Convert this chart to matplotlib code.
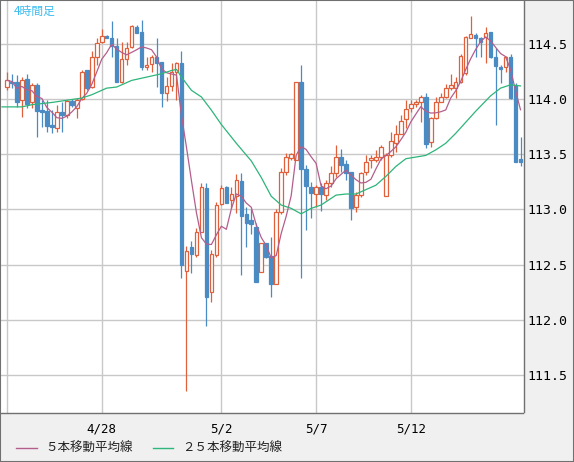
import pandas as pd
import matplotlib
matplotlib.use("Agg")
import matplotlib.pyplot as plt
from matplotlib.patches import Rectangle
from matplotlib.lines import Line2D

# 4時間足 ローソク足
opens = [114.11, 114.16, 114.16, 113.99, 114.18, 113.97, 114.13, 113.90, 113.89, 113.77,
         113.74, 113.88, 113.86, 113.98, 113.92, 114.00, 114.26, 114.11, 114.38, 114.52,
         114.57, 114.55, 114.48, 114.16, 114.36, 114.47, 114.65, 114.61, 114.29, 114.32,
         114.38, 114.34, 114.06, 114.12, 114.25, 114.33, 112.44, 112.66, 112.59, 112.80,
         113.19, 112.25, 112.59, 113.05, 113.20, 113.09, 113.12, 113.26, 112.96, 112.90,
         112.84, 112.43, 112.70, 112.58, 112.32, 112.98, 113.34, 113.47, 113.45, 114.16,
         113.37, 113.20, 113.14, 113.20, 113.13, 113.24, 113.33, 113.48, 113.41, 113.34,
         113.02, 113.13, 113.34, 113.45, 113.45, 113.48, 113.12, 113.49, 113.60, 113.68,
         113.82, 113.92, 113.96, 113.97, 114.02, 113.61, 113.83, 113.97, 114.02, 114.10,
         114.10, 114.16, 114.24, 114.55, 114.58, 114.55, 114.56, 114.61, 114.38, 114.29,
         114.29, 114.38, 114.12, 113.46]
highs = [114.25, 114.23, 114.22, 114.20, 114.23, 114.15, 114.15, 113.99, 113.99, 113.90,
         113.95, 113.97, 113.99, 114.00, 114.01, 114.26, 114.26, 114.44, 114.55, 114.64,
         114.58, 114.71, 114.55, 114.52, 114.52, 114.67, 114.67, 114.72, 114.38, 114.40,
         114.55, 114.34, 114.20, 114.33, 114.34, 114.44, 112.67, 112.71, 112.83, 113.24,
         113.24, 112.63, 113.07, 113.22, 113.21, 113.20, 113.32, 113.33, 113.02, 113.00,
         112.88, 112.70, 112.70, 112.75, 113.00, 113.38, 113.51, 113.51, 114.16, 114.31,
         113.40, 113.25, 113.22, 113.24, 113.27, 113.39, 113.58, 113.55, 113.45, 113.34,
         113.16, 113.34, 113.49, 113.49, 113.54, 113.58, 113.51, 113.70, 113.77, 113.86,
         113.99, 113.99, 113.99, 114.04, 114.06, 113.84, 114.02, 114.06, 114.14, 114.23,
         114.20, 114.41, 114.57, 114.75, 114.60, 114.56, 114.65, 114.61, 114.46, 114.31,
         114.39, 114.41, 114.15, 113.66]
lows = [114.08, 114.10, 113.93, 113.84, 113.92, 113.92, 113.66, 113.75, 113.70, 113.69,
        113.70, 113.70, 113.83, 113.93, 113.83, 113.99, 114.08, 114.10, 114.31, 114.51,
        114.55, 114.38, 114.16, 114.15, 114.31, 114.46, 114.60, 114.26, 114.26, 114.25,
        114.11, 113.93, 113.98, 114.07, 113.99, 112.38, 111.35, 112.42, 112.57, 112.80,
        111.94, 112.16, 112.57, 113.04, 113.06, 113.01, 112.97, 112.41, 112.66, 112.78,
        112.34, 112.43, 112.56, 112.21, 112.32, 112.96, 113.31, 113.45, 113.45, 112.38,
        112.81, 112.92, 113.02, 112.99, 113.09, 113.20, 113.29, 113.34, 113.27, 112.90,
        112.98, 113.11, 113.31, 113.38, 113.43, 113.45, 113.12, 113.48, 113.52, 113.68,
        113.74, 113.88, 113.93, 113.79, 113.56, 113.57, 113.82, 113.97, 114.01, 114.08,
        114.01, 114.15, 114.22, 114.55, 114.38, 114.38, 114.33, 114.37, 113.77, 114.15,
        114.25, 114.00, 113.43, 113.39]
closes = [114.17, 114.15, 113.97, 114.17, 113.96, 114.13, 113.89, 113.88, 113.76, 113.75,
          113.88, 113.86, 113.98, 113.95, 113.99, 114.25, 114.10, 114.38, 114.51, 114.57,
          114.55, 114.48, 114.16, 114.36, 114.46, 114.66, 114.60, 114.29, 114.31, 114.38,
          114.33, 114.06, 114.12, 114.25, 114.33, 112.50, 112.62, 112.60, 112.80, 113.20,
          112.21, 112.60, 113.04, 113.19, 113.06, 113.14, 113.27, 112.94, 112.88, 112.87,
          112.34, 112.70, 112.57, 112.32, 112.98, 113.34, 113.48, 113.50, 114.16, 113.37,
          113.21, 113.15, 113.20, 113.14, 113.24, 113.33, 113.48, 113.40, 113.33, 113.01,
          113.13, 113.33, 113.43, 113.47, 113.48, 113.57, 113.49, 113.62, 113.68, 113.80,
          113.91, 113.96, 113.97, 114.02, 113.59, 113.83, 113.97, 114.02, 114.10, 114.13,
          114.16, 114.39, 114.56, 114.59, 114.55, 114.52, 114.60, 114.38, 114.30, 114.27,
          114.38, 114.01, 113.43, 113.43]

# 25本移動平均線 at these bars
ma25_idx = [-1, 3, 5, 9, 12, 15, 17, 20, 22, 25, 29, 31, 33, 34, 35, 37, 39, 41, 43, 46,
            49, 51, 53, 55, 57, 59, 61, 63, 66, 68, 70, 72, 74, 76, 78, 80, 84, 86, 88, 90,
            92, 94, 97, 99, 101, 103]
ma25_val = [113.93, 113.93, 113.95, 113.97, 113.99, 114.01, 114.04, 114.10, 114.11, 114.17,
            114.21, 114.23, 114.26, 114.27, 114.20, 114.08, 114.02, 113.90, 113.77, 113.60,
            113.44, 113.29, 113.12, 113.04, 113.01, 112.96, 113.01, 113.04, 113.13, 113.14,
            113.14, 113.18, 113.22, 113.30, 113.39, 113.46, 113.49, 113.54, 113.60, 113.69,
            113.79, 113.89, 114.03, 114.10, 114.13, 114.12]

grid_idx = [0, 19, 43, 62, 81]
grid_labels = ["", "4/28", "5/2", "5/7", "5/12"]
y_ticks = [111.5, 112.0, 112.5, 113.0, 113.5, 114.0, 114.5]

up_color = "#e0603c"
down_color = "#4a8bc4"
ma5_color = "#b45e8c"
ma25_color = "#2db57a"
grid_color = "#c8c8c8"
frame_color = "#707070"

df = pd.DataFrame({"open": opens, "high": highs, "low": lows, "close": closes})
ma5 = df["close"].rolling(5, min_periods=1).mean()

W, H = 574, 462
fig = plt.figure(figsize=(W / 100, H / 100), dpi=100)
fig.patch.set_facecolor("#f0f0f0")
ax = fig.add_axes([1 / W, 49.5 / H, 522.5 / W, 411.5 / H])
ax.set_facecolor("white")

# candles
for i, row in df.iterrows():
    up = row["close"] >= row["open"]
    c = up_color if up else down_color
    ax.vlines(i, row["low"], row["high"], color=c, lw=0.9, zorder=2)
    bottom = min(row["open"], row["close"])
    height = max(abs(row["close"] - row["open"]), 0.004)
    ax.add_patch(Rectangle((i - 0.36, bottom), 0.72, height,
                           facecolor="white" if up else c, edgecolor=c,
                           lw=0.9, zorder=3))

ax.plot(df.index, ma5, color=ma5_color, lw=0.9, zorder=4)
ax.plot(ma25_idx, ma25_val, color=ma25_color, lw=0.9, zorder=4)

ax.set_xlim(-1.2, 103.6)
ax.set_ylim(111.159, 114.890)

ax.set_xticks(grid_idx)
ax.set_xticklabels(grid_labels, fontfamily="DejaVu Sans Mono", fontsize=9)
ax.yaxis.tick_right()
ax.set_yticks(y_ticks)
ax.set_yticklabels([f"{v:.1f}" for v in y_ticks], fontfamily="DejaVu Sans Mono", fontsize=9.5)
ax.tick_params(axis="x", length=0, pad=7)
ax.tick_params(axis="y", length=0, pad=2.5)
ax.grid(True, color=grid_color, lw=1.0, zorder=0)
ax.set_axisbelow(True)

for side in ["left", "top"]:
    ax.spines[side].set_visible(False)
for side in ["right", "bottom"]:
    ax.spines[side].set_color(frame_color)
    ax.spines[side].set_linewidth(1.0)

# title in the corner
fig.text(14 / W, 1 - 11.5 / H, "4時間足", color="#3cbcf0", fontsize=8.5,
         fontfamily="Noto Sans CJK JP", va="center", ha="left")

# legend at the bottom
leg_y = 1 - 448 / H
fig.add_artist(Line2D([16 / W, 37 / W], [leg_y, leg_y], color=ma5_color, lw=1.0))
fig.text(45 / W, leg_y, "５本移動平均線", fontsize=9, color="#222222",
         fontfamily="Noto Sans CJK JP", va="center", ha="left")
fig.add_artist(Line2D([153 / W, 173 / W], [leg_y, leg_y], color=ma25_color, lw=1.0))
fig.text(182 / W, leg_y, "２５本移動平均線", fontsize=9, color="#222222",
         fontfamily="Noto Sans CJK JP", va="center", ha="left")

# outer frame
fig.add_artist(Rectangle((0, 0), 1, 1, transform=fig.transFigure, fill=False,
                         edgecolor=frame_color, lw=1.5))

fig.savefig("out.png", dpi=100, facecolor=fig.get_facecolor())
